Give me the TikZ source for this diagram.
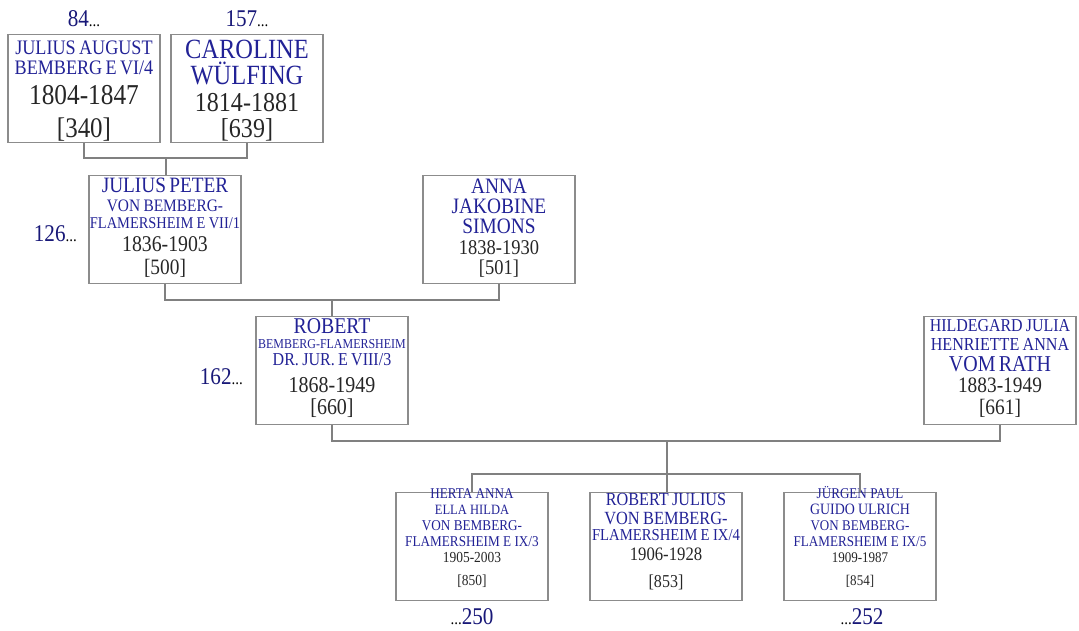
\documentclass[tikz,border=0pt]{standalone}
\usepackage{fontspec}
\setmainfont{Liberation Serif}[FakeStretch=0.88]
\usepackage{xcolor}
\usepackage{tikz}
\definecolor{NameBlue}{RGB}{34,34,150}
\definecolor{NumBlue}{RGB}{24,24,120}
\definecolor{BoxGray}{RGB}{140,140,140}
\definecolor{LineGray}{RGB}{128,128,128}
\newcommand{\nameln}[3]{{\color{NameBlue}\fontsize{#1}{#2}\selectfont #3\par}}
\newcommand{\dataln}[3]{{\color{black!85}\fontsize{#1}{#2}\selectfont #3\par}}
\newcommand{\more}{{\color{black}\fontsize{17}{17}\selectfont...}}
\tikzset{
    person/.style 2 args={draw=BoxGray, line width=1.2pt, anchor=north, inner sep=0pt,
        text width=152pt, align=center, text height=#1, text depth=#2},
    link/.style={draw=LineGray, line width=1.2pt},
    genno/.style={text=NumBlue, font=\fontsize{24}{24}\selectfont, inner sep=0pt}
}

\begin{document}
\begin{tikzpicture}[x=1pt, y=-1pt]
    \useasboundingbox (0,0) rectangle (1079,631);
    % grandparents
    \node[person={20pt}{88pt}] (jab) at (84,34) {\nameln{20.6}{20}{JULIUS AUGUST}\nameln{20.6}{20}{BEMBERG E VI/4}\dataln{28.8}{30}{1804-1847}\dataln{28.4}{33}{[340]}};
    \node[person={24pt}{84pt}] (cwu) at (247,34) {\nameln{27.8}{26}{CAROLINE}\nameln{27.8}{26}{WÜLFING}\dataln{27.3}{27}{1814-1881}\dataln{27.3}{26}{[639]}};
    \node[genno, anchor=base] (g84) at (84,27) {84\more};
    \node[genno, anchor=base] (g157) at (247,27) {157\more};
    % parents
    \node[person={17pt}{91pt}] (jpb) at (165,175) {\nameln{21.9}{20}{JULIUS PETER}\nameln{17.5}{19}{VON BEMBERG-}\nameln{16.4}{17}{FLAMERSHEIM E VII/1}\dataln{22.5}{23}{1836-1903}\dataln{22}{23}{[500]}};
    \node[person={18pt}{90pt}] (ajs) at (499,175) {\nameln{22}{21}{ANNA}\nameln{22}{20}{JAKOBINE}\nameln{22}{20}{SIMONS}\dataln{21}{21}{1838-1930}\dataln{21}{20}{[501]}};
    \node[genno, anchor=base east] (g126) at (77,242) {126\more};
    % couple
    \node[person={17pt}{91pt}] (rbf) at (332,316) {\nameln{22.5}{20}{ROBERT}\nameln{13.6}{15}{BEMBERG-FLAMERSHEIM}\nameln{18.2}{17}{DR. JUR. E VIII/3}\dataln{22.7}{27}{1868-1949}\dataln{22.7}{22}{[660]}};
    \node[person={15pt}{93pt}] (hvr) at (1000,316) {\nameln{18.1}{16}{HILDEGARD JULIA}\nameln{18.3}{19}{HENRIETTE ANNA}\nameln{22.7}{21}{VOM RATH}\dataln{22}{21}{1883-1949}\dataln{22}{22}{[661]}};
    \node[genno, anchor=base east] (g162) at (243,384) {162\more};
    % children
    \node[person={6pt}{102pt}] (hab) at (472,492) {\nameln{14.9}{14}{HERTA ANNA}\nameln{14.2}{16}{ELLA HILDA}\nameln{15}{16}{VON BEMBERG-}\nameln{15}{16}{FLAMERSHEIM E IX/3}\dataln{15.3}{16}{1905-2003}\dataln{15.3}{23}{[850]}};
    \node[person={13pt}{95pt}] (rjb) at (666,492) {\nameln{18.4}{17}{ROBERT JULIUS}\nameln{18.6}{19}{VON BEMBERG-}\nameln{16.7}{16}{FLAMERSHEIM E IX/4}\dataln{19}{20}{1906-1928}\dataln{18.2}{27}{[853]}};
    \node[person={6pt}{102pt}] (jgb) at (860,492) {\nameln{14.9}{14}{JÜRGEN PAUL}\nameln{15.8}{16}{GUIDO ULRICH}\nameln{14.8}{16}{VON BEMBERG-}\nameln{14.9}{16}{FLAMERSHEIM E IX/5}\dataln{14.8}{16}{1909-1987}\dataln{14.8}{23}{[854]}};
    \node[genno, anchor=base] (g250) at (472,624) {\more250};
    \node[genno, anchor=base] (g252) at (862,624) {\more252};
    % connectors
    \coordinate (u1) at (166,158);
    \coordinate (u2) at (332,300);
    \coordinate (u3) at (667,441);
    \coordinate (u4) at (667,474);
    \draw[link] (jab.south) |- (u1) -| (cwu.south);
    \draw[link] (u1) -- (u1 |- jpb.north);
    \draw[link] (jpb.south) |- (u2) -| (ajs.south);
    \draw[link] (u2) -- (u2 |- rbf.north);
    \draw[link] (rbf.south) |- (u3) -| (hvr.south);
    \draw[link] (u3) -- (u3 |- rjb.north);
    \draw[link] (hab.north) |- (u4) -| (jgb.north);
\end{tikzpicture}
\end{document}
